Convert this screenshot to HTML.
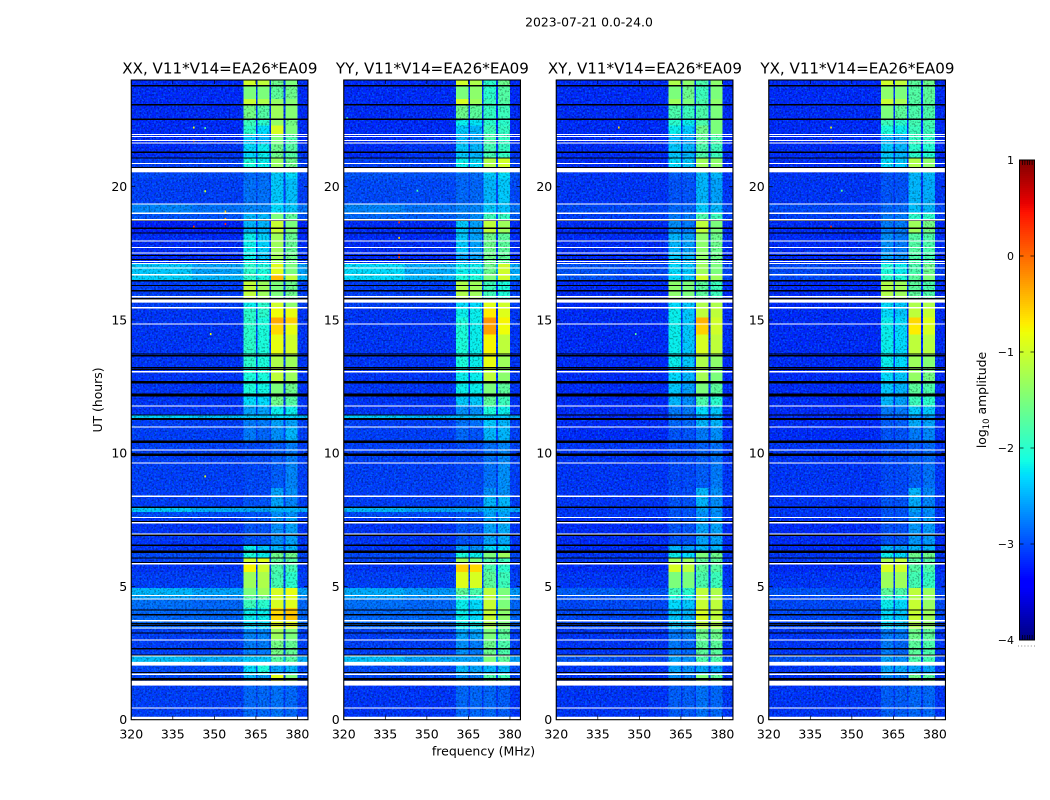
<!DOCTYPE html>
<html>
<head>
<meta charset="utf-8">
<title>2023-07-21 0.0-24.0</title>
<style>
html,body{margin:0;padding:0;background:#fff;}
svg{display:block;font-family:"DejaVu Sans","Liberation Sans",sans-serif;fill:#000;}
#panels > g{isolation:isolate;}
</style>
</head>
<body>
<svg id="figure" xmlns="http://www.w3.org/2000/svg" width="1050" height="800" viewBox="0 0 1050 800">
<defs>
<filter id="speck-bright" x="0" y="0" width="1" height="1" color-interpolation-filters="sRGB">
<feTurbulence type="fractalNoise" baseFrequency="0.55" numOctaves="1" seed="3"/>
<feColorMatrix type="matrix" values="0 0 0 0 0  0 0 0 0 0.2  0 0 0 0 0  6 0 0 0 -3"/>
</filter>
<filter id="speck-dark" x="0" y="0" width="1" height="1" color-interpolation-filters="sRGB">
<feTurbulence type="fractalNoise" baseFrequency="0.55" numOctaves="1" seed="11"/>
<feColorMatrix type="matrix" values="0 0 0 0 0.72  0 0 0 0 0.72  0 0 0 0 0.72  0 6 0 0 -3"/>
</filter>
</defs>
<text x="589" y="26.5" font-size="12.4" text-anchor="middle">2023-07-21 0.0-24.0</text>
<text transform="translate(102,400) rotate(-90)" font-size="12.4" text-anchor="middle">UT (hours)</text>
<text x="483.5" y="755.5" font-size="12.5" text-anchor="middle">frequency (MHz)</text>
<text transform="translate(986,400) rotate(-90)" font-size="12.4" text-anchor="middle">log<tspan font-size="8.5" dy="3">10</tspan><tspan dy="-3"> amplitude</tspan></text>
<g id="panels"></g>
<g id="colorbar"></g>
</svg>
<script>
var panelTitles = ["XX, V11*V14=EA26*EA09", "YY, V11*V14=EA26*EA09", "XY, V11*V14=EA26*EA09", "YX, V11*V14=EA26*EA09"];
var freqTicks = [320, 335, 350, 365, 380];
var hourTicks = [0, 5, 10, 15, 20];
var colorbarTicks = [1, 0, -1, -2, -3, -4];
var timeEdges = [24,23.79,23.3,23.07,22.53,22.3,21.96,21.6,21.1,20.54,20.3,19.35,19,18.74,18.26,17.5,17.1,16.7,16.5,15.7,15.46,15.1,14.85,14.45,13.72,13.21,12.66,12.16,11.77,11.43,11.28,10.98,10.43,9.63,8.7,8.39,7.97,7.8,7.59,6.55,6.25,6.07,5.85,5.55,4.95,4.66,4.53,4.2,3.7,3.4,2.99,2.39,2.1,1.74,1.37,0];
var bandEdges = [320,342,360.5,365.1,365.6,369.9,370.5,375,375.6,380,384];
var bandSource = [0,1,2,1,3,1,4,1,5,1];
/* each row: background low channels, background high channels, band 1, band 2, band 3, band 4 (log10 amplitude) */
var xxLevels = [
[-3.2,-3.2,-1,-1.1,-1.6,-1.5],[-3.2,-3.2,-1.5,-1.5,-1.7,-1.6],[-3.2,-3.2,-1.05,-1.2,-1.35,-1.45],[-3.2,-3.2,-1.55,-1.75,-1.3,-1.45],
[-3.2,-3.2,-1.9,-2,-1.35,-1.55],[-3.2,-3.2,-2,-2.3,-0.95,-1.5],[-3.2,-3.2,-2.4,-2.5,-1.5,-1.8],[-3.2,-3.15,-2.3,-2.2,-1.6,-1.75],
[-3.1,-3.1,-2.1,-2.2,-1.35,-1.6],[-3.05,-3.05,-2.9,-2.9,-2.4,-2.3],[-3.1,-3.1,-2.85,-2.85,-2.4,-2.45],[-2.75,-2.85,-2.75,-2.75,-2.3,-2.4],
[-3,-3,-2.5,-2.5,-1.5,-1.7],[-3.25,-3.25,-2.5,-2.5,-1.05,-1.5],[-3.2,-3.2,-2.2,-2.35,-1.3,-1.65],[-3.2,-3.2,-2.2,-2.4,-1.3,-1.6],
[-2.4,-2.6,-2,-2.1,-0.9,-1.5],[-2.35,-2.5,-2,-2.1,-0.45,-1.1],[-3.1,-3.1,-1.1,-1.3,-1.5,-1.6],[-3.1,-3.1,-2.2,-2,-1,-1.4],
[-3.15,-3.15,-2,-2,-0.8,-0.85],[-3.15,-3.15,-2,-2.1,-0.35,-0.55],[-3.15,-3.15,-2,-2.1,-0.6,-0.85],[-3.15,-3.15,-2,-2.1,-0.85,-1],
[-3.15,-3.15,-2,-2.1,-1.2,-1.3],[-3.15,-3.15,-2.1,-2.1,-1.1,-1.3],[-3.15,-3.15,-2.1,-2.15,-1.5,-1.6],[-3.15,-3.15,-2.3,-2.3,-1.6,-1.75],
[-3.15,-3.15,-2.6,-2.6,-2.2,-2.2],[-2.35,-2.45,-2.4,-2.4,-2.3,-2.3],[-3.1,-3.1,-2.8,-2.8,-2.6,-2.6],[-3.1,-3.1,-2.8,-2.9,-2.7,-2.5],
[-3.1,-3.1,-3.05,-3.05,-2.95,-2.8],[-3.1,-3.1,-3.05,-3.05,-2.95,-2.75],[-3.1,-3.1,-3.05,-3.05,-2.6,-2.7],[-3.1,-3.1,-3,-3,-2.6,-2.75],
[-2.4,-2.55,-2.6,-2.6,-2.5,-2.5],[-3.05,-3.05,-3,-3,-2.7,-2.7],[-3.15,-3.15,-3,-3,-2.7,-2.6],[-3.15,-3.15,-2.2,-2.4,-2.5,-2.5],
[-3.05,-3.05,-2.1,-2.2,-1.6,-1.6],[-3.1,-3.1,-1,-0.9,-1.7,-1.75],[-3.15,-3.15,-0.75,-1,-1.8,-1.85],[-3.1,-3.1,-1.3,-1.2,-1.85,-2],
[-2.5,-2.6,-1.5,-1.3,-0.95,-0.85],[-2.6,-2.7,-1.7,-1.6,-1,-0.9],[-2.85,-2.9,-1.9,-2,-0.95,-0.9],[-2.9,-2.9,-2.2,-2.2,-0.6,-0.5],
[-2.9,-2.9,-2.3,-2.3,-0.9,-0.9],[-3.1,-3.1,-2.75,-2.75,-1.3,-1.5],[-3.1,-3.1,-2.8,-2.8,-1.55,-1.65],[-2.45,-2.55,-2.4,-2.4,-1.75,-1.75],
[-3.05,-3.05,-2.3,-2.1,-2.6,-2.5],[-3.05,-3.05,-2.5,-2.6,-0.9,-1.5],[-3.1,-3.1,-2.9,-2.9,-2.85,-2.9]
];
var yyLevels = [
[-3.2,-3.2,-1,-1.2,-2,-1.6],[-3.2,-3.2,-1.5,-1.4,-2,-1.75],[-3.2,-3.2,-0.95,-1.3,-1.9,-1.75],[-3.2,-3.2,-1.6,-1.7,-1.95,-1.9],
[-3.2,-3.2,-2.2,-2.25,-2,-2],[-3.2,-3.2,-2.4,-2.5,-1.9,-1.95],[-3.2,-3.2,-2.5,-2.6,-1.8,-1.95],[-3.2,-3.15,-2.4,-2.5,-1.85,-1.95],
[-3.1,-3.1,-2.2,-2.3,-1.2,-1],[-3,-3,-2.9,-2.9,-2.4,-2.3],[-3.05,-3.05,-2.9,-2.9,-2.5,-2.4],[-2.75,-2.85,-2.75,-2.75,-2.4,-2.45],
[-2.9,-2.95,-2.8,-2.7,-1.9,-1.95],[-3.2,-3.2,-2.4,-2.6,-1.1,-1.3],[-3.2,-3.2,-2.4,-2.6,-1.6,-1.7],[-3.2,-3.2,-2.6,-2.6,-1.6,-1.7],
[-2.3,-2.55,-2.2,-2.2,-1.6,-1],[-2.3,-2.5,-2.1,-2.1,-1.5,-1],[-3.1,-3.1,-1.2,-1.3,-1.9,-2.1],[-3.1,-3.1,-2.3,-2.3,-0.9,-1],
[-3.15,-3.15,-2.2,-2.2,-0.7,-0.9],[-3.15,-3.15,-2.1,-2.2,-0.25,-0.75],[-3.15,-3.15,-2.1,-2.2,-0.3,-0.8],[-3.15,-3.15,-2.1,-2.2,-0.75,-1.1],
[-3.15,-3.15,-2.1,-2.2,-0.85,-1.3],[-3.15,-3.15,-2.2,-2.2,-1.1,-1.4],[-3.15,-3.15,-2.2,-2.2,-1.5,-1.7],[-3.15,-3.15,-2.4,-2.4,-1.7,-1.9],
[-3.15,-3.15,-2.7,-2.7,-2.1,-2.2],[-2.4,-2.5,-2.45,-2.45,-2.4,-2.4],[-3.1,-3.1,-2.85,-2.85,-2.4,-2.5],[-3.1,-3.1,-2.9,-3,-2.5,-2.5],
[-3.1,-3.1,-3.05,-3.05,-2.85,-2.75],[-3.1,-3.1,-3.05,-3.05,-2.85,-2.7],[-3.1,-3.1,-3.05,-3.05,-2.7,-2.7],[-3.1,-3.1,-3.05,-3.05,-2.5,-2.5],
[-2.5,-2.6,-2.6,-2.6,-2.5,-2.5],[-3.05,-3.05,-3,-3,-2.6,-2.6],[-3.15,-3.15,-3,-3,-2.6,-2.55],[-3.15,-3.15,-2.6,-2.7,-2.3,-2.3],
[-3.05,-3.05,-2.1,-2.2,-1.5,-1.3],[-3.1,-3.1,-1.3,-1.5,-1.8,-1.9],[-3.15,-3.15,-0.55,-0.6,-1.8,-2],[-3.1,-3.1,-0.9,-0.95,-1.7,-1.9],
[-2.55,-2.65,-1.7,-1.8,-1.1,-1.5],[-2.6,-2.7,-2,-2.1,-1.1,-1.5],[-2.85,-2.9,-2.2,-2.3,-1.05,-1.5],[-2.9,-2.9,-2.2,-2.3,-1.05,-1.4],
[-2.9,-2.9,-2.2,-2.2,-1.2,-1.5],[-3.1,-3.1,-2.6,-2.6,-1.5,-1.7],[-3.1,-3.1,-2.7,-2.8,-1.6,-1.8],[-2.45,-2.6,-2.6,-2.6,-1.5,-1.7],
[-3.05,-3.05,-2.5,-2.6,-2.5,-2.5],[-3.05,-3.05,-2.7,-2.8,-1.8,-1.9],[-3.15,-3.15,-2.9,-2.9,-2.9,-2.95]
];
var xyLevels = [
[-3.2,-3.2,-1.2,-1.4,-1.8,-1.4],[-3.2,-3.2,-1.5,-1.6,-1.9,-1.5],[-3.2,-3.2,-1.3,-1.5,-1.8,-1.4],[-3.2,-3.2,-1.8,-1.9,-1.8,-1.5],
[-3.2,-3.2,-2,-2.2,-1.8,-1.5],[-3.2,-3.2,-2.2,-2.4,-1.6,-1.5],[-3.2,-3.2,-2.5,-2.6,-1.7,-1.8],[-3.2,-3.2,-2.4,-2.5,-1.8,-1.9],
[-3.2,-3.2,-2.3,-2.4,-1.3,-1.4],[-3.15,-3.15,-2.95,-2.95,-2.5,-2.5],[-3.15,-3.15,-3,-3,-2.5,-2.6],[-3.05,-3.05,-2.9,-2.9,-2.4,-2.5],
[-3.1,-3.1,-2.8,-2.8,-1.8,-1.9],[-3.2,-3.2,-2.7,-2.8,-1.1,-1.5],[-3.2,-3.2,-2.5,-2.6,-1.4,-1.6],[-3.2,-3.2,-2.4,-2.5,-1.4,-1.6],
[-3,-3.05,-2.3,-2.4,-1.3,-1.5],[-3,-3.05,-2.3,-2.4,-1,-1.3],[-3.2,-3.2,-1.4,-1.5,-1.7,-1.9],[-3.2,-3.2,-2.3,-2.4,-1.2,-1.2],
[-3.2,-3.2,-2.2,-2.4,-1.1,-1.1],[-3.2,-3.2,-2.2,-2.4,-0.4,-1],[-3.2,-3.2,-2.2,-2.4,-0.55,-1],[-3.2,-3.2,-2.2,-2.4,-0.95,-1.1],
[-3.2,-3.2,-2.2,-2.4,-1.2,-1.4],[-3.2,-3.2,-2.3,-2.5,-1.25,-1.5],[-3.2,-3.2,-2.4,-2.6,-1.5,-1.7],[-3.2,-3.2,-2.5,-2.7,-1.8,-2],
[-3.2,-3.2,-2.8,-2.8,-2.3,-2.4],[-3.2,-3.2,-2.9,-2.9,-2.6,-2.6],[-3.2,-3.2,-2.9,-2.9,-2.5,-2.5],[-3.2,-3.2,-3,-3,-2.8,-2.7],
[-3.15,-3.15,-3.05,-3.05,-2.95,-2.85],[-3.15,-3.15,-3.05,-3.05,-2.95,-2.8],[-3.15,-3.15,-3.05,-3.05,-2.5,-2.7],[-3.15,-3.15,-3,-3,-2.5,-2.7],
[-3.15,-3.15,-3,-3,-2.6,-2.7],[-3.15,-3.15,-3,-3,-2.7,-2.7],[-3.2,-3.2,-3,-3,-2.6,-2.6],[-3.2,-3.2,-2.5,-2.6,-2.5,-2.5],
[-3.15,-3.15,-2.2,-2.3,-1.5,-1.6],[-3.15,-3.15,-1.3,-1.3,-1.7,-1.7],[-3.2,-3.2,-0.95,-1.1,-1.7,-1.75],[-3.15,-3.15,-1.5,-1.5,-1.8,-1.9],
[-2.95,-3,-1.9,-2,-1.1,-1.2],[-3,-3,-2.1,-2.2,-1.1,-1.2],[-3.05,-3.05,-2.3,-2.4,-1.05,-1.1],[-3.05,-3.05,-2.4,-2.5,-0.95,-1.1],
[-3.05,-3.05,-2.4,-2.5,-1.1,-1.2],[-3.15,-3.15,-2.8,-2.8,-1.6,-1.6],[-3.15,-3.15,-2.8,-2.9,-1.7,-1.7],[-3,-3.05,-2.6,-2.7,-1.8,-1.8],
[-3.15,-3.15,-2.6,-2.7,-2.6,-2.6],[-3.15,-3.15,-2.7,-2.8,-1.5,-1.7],[-3.15,-3.15,-2.95,-2.95,-2.85,-2.9]
];
var yxLevels = [
[-3.2,-3.2,-1,-1.1,-1.7,-1.6],[-3.2,-3.2,-1.4,-1.5,-1.75,-1.7],[-3.2,-3.2,-1.05,-1.25,-1.75,-1.7],[-3.2,-3.2,-1.5,-1.7,-1.8,-1.8],
[-3.2,-3.2,-1.9,-2,-1.85,-1.85],[-3.2,-3.2,-2.1,-2.2,-1.9,-1.9],[-3.2,-3.2,-2.5,-2.6,-1.95,-2],[-3.2,-3.2,-2.4,-2.5,-2,-2.05],
[-3.2,-3.2,-2.3,-2.4,-1.2,-1.4],[-3.15,-3.15,-3,-3,-2.5,-2.5],[-3.15,-3.15,-3,-3,-2.5,-2.55],[-3.05,-3.05,-2.9,-2.9,-2.45,-2.5],
[-3.1,-3.1,-2.8,-2.8,-2,-2],[-3.2,-3.2,-2.8,-2.8,-1.3,-1.55],[-3.2,-3.2,-2.7,-2.8,-1.75,-1.8],[-3.2,-3.2,-2.6,-2.7,-1.8,-1.85],
[-3.05,-3.1,-2.1,-2.2,-1.8,-1.6],[-3.05,-3.1,-2,-2.1,-1.7,-1.5],[-3.2,-3.2,-1.2,-1.3,-1.7,-1.8],[-3.2,-3.2,-2.3,-2.4,-1.2,-1.2],
[-3.2,-3.2,-2.3,-2.4,-1.1,-1.05],[-3.2,-3.2,-2.2,-2.3,-0.6,-0.9],[-3.2,-3.2,-2.2,-2.3,-0.7,-0.95],[-3.2,-3.2,-2.2,-2.3,-1.1,-1.15],
[-3.2,-3.2,-2.2,-2.3,-1.3,-1.45],[-3.2,-3.2,-2.3,-2.4,-1.35,-1.55],[-3.2,-3.2,-2.4,-2.5,-1.7,-1.8],[-3.2,-3.2,-2.5,-2.6,-1.9,-2],
[-3.2,-3.2,-2.8,-2.8,-2.4,-2.4],[-3.2,-3.2,-2.9,-2.9,-2.65,-2.65],[-3.2,-3.2,-2.95,-2.95,-2.55,-2.6],[-3.2,-3.2,-3,-3,-2.8,-2.75],
[-3.15,-3.15,-3.05,-3.05,-2.95,-2.9],[-3.15,-3.15,-3.05,-3.05,-2.95,-2.85],[-3.15,-3.15,-3.05,-3.05,-2.5,-2.75],[-3.15,-3.15,-3,-3,-2.55,-2.75],
[-3.15,-3.15,-3,-3,-2.6,-2.7],[-3.15,-3.15,-3,-3,-2.7,-2.75],[-3.2,-3.2,-3,-3,-2.65,-2.65],[-3.2,-3.2,-2.5,-2.6,-2.5,-2.5],
[-3.15,-3.15,-2.2,-2.3,-1.6,-1.6],[-3.15,-3.15,-1.25,-1.1,-1.75,-1.75],[-3.2,-3.2,-0.95,-1,-1.75,-1.8],[-3.15,-3.15,-1.3,-1.3,-1.85,-1.95],
[-3,-3.05,-1.7,-1.8,-1.1,-1.3],[-3.05,-3.05,-2,-2.1,-1.2,-1.4],[-3.05,-3.05,-2.2,-2.3,-1.05,-1.35],[-3.05,-3.05,-2.3,-2.4,-1.05,-1.3],
[-3.05,-3.05,-2.3,-2.4,-1.2,-1.4],[-3.15,-3.15,-2.8,-2.8,-1.6,-1.7],[-3.15,-3.15,-2.8,-2.9,-1.7,-1.8],[-3,-3.05,-2.6,-2.7,-1.8,-1.85],
[-3.15,-3.15,-2.6,-2.6,-2.6,-2.6],[-3.15,-3.15,-2.7,-2.8,-1.6,-1.75],[-3.15,-3.15,-2.95,-2.95,-2.9,-2.9]
];
var panelLevels = [xxLevels, yyLevels, xyLevels, yxLevels];
/* flagged integrations, in hours */
var blackLines = [23.79,23.07,22.53,21.29,21.08,20.72,18.74,18.44,18.26,17.42,17.27,16.47,16.29,16.1,15.8,13.72,13.66,13.21,13.14,12.21,12.16,11.43,7.97,7.44,6.92,6.55,6.07,5.89,4.12,3.94,3.61,3.54,3.25,2.66,2.43,1.77];
var blackThickLines = [12.66,11.28,10.43,9.94,6.3,1.52];
var whiteLines = [21.96,21.88,21.73,21.64,20.87,19.35,19,18.76,17.96,17.72,17.51,17.19,17.12,16.95,16.7,15.87,15.46,14.85,13.06,11.77,10.98,10.12,9.63,8.39,7.59,7.39,6.97,5.85,4.66,4.53,3.71,3.44,2.99,2.39,1.71,0.44];
var whiteBands = [[20.7,20.54],[15.77,15.65],[2.17,2.03],[1.46,1.28],[0.11,0]];
/* isolated interference spots: panel, MHz, hour, log10 amplitude */
var rfiSpots = [
[0,342.3,22.22,-0.8],[0,346.4,22.2,-1.7],[0,342.3,21.73,0.1],[0,346.4,19.83,-1],[0,353.7,19.07,-0.5],[0,353.7,18.79,-0.3],[0,353.7,18.6,0.3],[0,342.3,18.5,0.2],[0,348.4,14.47,-0.8],[0,346.4,9.13,-0.9],
[1,339.7,18.66,0.3],[1,339.7,18.08,-0.6],[1,339.7,17.44,0.5],[1,339.7,17.35,0.2],[1,346.3,19.85,-1.9],[1,320.9,22.57,-1.9],
[2,348.4,14.47,-1.7],[2,342.3,22.22,-0.6],
[3,342.2,22.22,-0.8],[3,342.2,21.73,0.2],[3,342.2,18.5,0.3],[3,346.1,19.85,-1.7]
];

var svgNS = "http://www.w3.org/2000/svg";
var panelLeft = [131.25, 343.75, 556.25, 768.75];
var panelWidth = 176.7;
var panelTop = 80;
var panelBottom = 719.7;
var pxPerMHz = 2.77;
var pxPerHour = 26.65;
var barTop = 160;
var pxPerDecade = 96;

function xScale(p, mhz) { return panelLeft[p] + (mhz - 320) * pxPerMHz; }
function yScale(h) { return panelBottom - h * pxPerHour; }
function barY(v) { return barTop + (1 - v) * pxPerDecade; }

function ramp(t, pts) {
  for (var i = 1; i < pts.length; i++) {
    if (t <= pts[i][0]) {
      var a = pts[i - 1], b = pts[i];
      return a[1] + (b[1] - a[1]) * (t - a[0]) / (b[0] - a[0]);
    }
  }
  return pts[pts.length - 1][1];
}
function jet(v) {
  var t = Math.max(0, Math.min(1, (v + 4) / 5));
  var r = ramp(t, [[0,0],[0.35,0],[0.66,1],[0.89,1],[1,0.5]]);
  var g = ramp(t, [[0,0],[0.125,0],[0.375,1],[0.64,1],[0.91,0],[1,0]]);
  var b = ramp(t, [[0,0.5],[0.11,1],[0.34,1],[0.65,0],[1,0]]);
  return "rgb(" + Math.round(r * 255) + "," + Math.round(g * 255) + "," + Math.round(b * 255) + ")";
}
function node(tag, parent, props) {
  var el = document.createElementNS(svgNS, tag);
  for (var k in props) el.setAttribute(k, props[k]);
  parent.appendChild(el);
  return el;
}

var panelsRoot = document.getElementById("panels");
panelLevels.forEach(function (levels, p) {
  var g = node("g", panelsRoot, {});
  
  

  var brightCells = [];
  levels.forEach(function (row, r) {
    bandSource.forEach(function (src, c) {
      var v = row[src];
      var spec = {
        x: xScale(p, bandEdges[c]),
        y: yScale(timeEdges[r]),
        width: xScale(p, bandEdges[c + 1]) - xScale(p, bandEdges[c]),
        height: yScale(timeEdges[r + 1]) - yScale(timeEdges[r]),
        fill: jet(v),
        "shape-rendering": "crispEdges"
      };
      if (v < -1.5) {
        var cell = node("rect", g, spec);
        
        
      } else {
        brightCells.push(spec);
      }
    });
  });

  var bright = node("rect", g, { x: panelLeft[p], y: panelTop, width: panelWidth, height: panelBottom - panelTop, filter: "url(#speck-bright)", style: "mix-blend-mode:screen" });
  
  
  var dark = node("rect", g, { x: panelLeft[p], y: panelTop, width: panelWidth, height: panelBottom - panelTop, filter: "url(#speck-dark)", style: "mix-blend-mode:multiply" });
  
  

  brightCells.forEach(function (spec) {
    var cell = node("rect", g, spec);
    
    
  });

  rfiSpots.forEach(function (s) {
    if (s[0] !== p) return;
    var spot = node("rect", g, { x: xScale(p, s[1]), y: yScale(s[2]) - 1, width: 1.6, height: 2, fill: jet(s[3]) });
    
    
  });

  blackLines.forEach(function (h) {
    var line = node("rect", g, { x: panelLeft[p], y: yScale(h) - 0.65, width: panelWidth, height: 1.3, fill: "#000", "shape-rendering": "crispEdges" });
    
    
  });
  blackThickLines.forEach(function (h) {
    var line = node("rect", g, { x: panelLeft[p], y: yScale(h) - 1.1, width: panelWidth, height: 2.2, fill: "#000", "shape-rendering": "crispEdges" });
    
    
  });
  whiteLines.forEach(function (h) {
    var line = node("rect", g, { x: panelLeft[p], y: yScale(h) - 0.65, width: panelWidth, height: 1.3, fill: "#fff", "shape-rendering": "crispEdges" });
    
    
  });
  whiteBands.forEach(function (b) {
    var band = node("rect", g, { x: panelLeft[p], y: yScale(b[0]), width: panelWidth, height: yScale(b[1]) - yScale(b[0]), fill: "#fff" });
    
    
  });

  var frame = node("rect", g, { x: panelLeft[p], y: panelTop, width: panelWidth, height: panelBottom - panelTop, fill: "none", stroke: "#000", "stroke-width": 1.1 });
  
  

  freqTicks.forEach(function (f) {
    var x = xScale(p, f);
    var bottomTick = node("line", g, { x1: x, x2: x, y1: panelBottom, y2: panelBottom - 4, stroke: "#000", "stroke-width": 0.7 });
    
    
    var topTick = node("line", g, { x1: x, x2: x, y1: panelTop, y2: panelTop + 4, stroke: "#000", "stroke-width": 0.7 });
    
    
    var label = node("text", g, { x: x, y: panelBottom + 19, "font-size": 12.5, "text-anchor": "middle" });
    label.textContent = String(f);
    
    
  });
  hourTicks.forEach(function (h) {
    var y = yScale(h);
    var leftTick = node("line", g, { x1: panelLeft[p], x2: panelLeft[p] + 4, y1: y, y2: y, stroke: "#000", "stroke-width": 0.7 });
    
    
    var rightTick = node("line", g, { x1: panelLeft[p] + panelWidth, x2: panelLeft[p] + panelWidth - 4, y1: y, y2: y, stroke: "#000", "stroke-width": 0.7 });
    
    
    var label = node("text", g, { x: panelLeft[p] - 4, y: y + 4.5, "font-size": 12.5, "text-anchor": "end" });
    label.textContent = String(h);
    
    
  });

  var title = node("text", g, { x: panelLeft[p] + panelWidth / 2 + 0.3, y: 73.5, "font-size": 15.1, "text-anchor": "middle" });
  title.textContent = panelTitles[p];
  
  
});

var barRoot = document.getElementById("colorbar");
for (var lv = 1; lv > -4; lv -= 1 / 48) {
  var seg = node("rect", barRoot, { x: 1019.5, y: barY(lv), width: 15, height: 2.1, fill: jet(lv - 1 / 96) });
  
  
}
var barFrame = node("rect", barRoot, { x: 1019.5, y: barY(1), width: 15, height: barY(-4) - barY(1), fill: "none", stroke: "#000", "stroke-width": 1 });


colorbarTicks.forEach(function (v) {
  var y = barY(v);
  var tickL = node("line", barRoot, { x1: 1019.5, x2: 1023.5, y1: y, y2: y, stroke: "#000", "stroke-width": 0.7 });
  
  
  var tickR = node("line", barRoot, { x1: 1034.5, x2: 1030.5, y1: y, y2: y, stroke: "#000", "stroke-width": 0.7 });
  
  
  var label = node("text", barRoot, { x: 1014, y: y + 4, "font-size": 11, "text-anchor": "end" });
  label.textContent = v < 0 ? "\u2212" + Math.abs(v) : String(v);
  
  
});
[0, 1, 2, 3, 4].forEach(function (i) {
  var x = 1022.5 + i * 2.4;
  var topMinor = node("line", barRoot, { x1: x, x2: x, y1: barY(1), y2: barY(1) + 5, stroke: "#000", "stroke-width": 0.7 });
  
  
  var botMinor = node("line", barRoot, { x1: x, x2: x, y1: barY(-4), y2: barY(-4) - 5, stroke: "#000", "stroke-width": 0.7 });
  
  
});
[0, 1, 2, 3, 4, 5].forEach(function (i) {
  var dot = node("rect", barRoot, { x: 1018 + i * 3.2, y: 645.5, width: 1, height: 1, fill: "#888" });
  
  
});
</script>
</body>
</html>
